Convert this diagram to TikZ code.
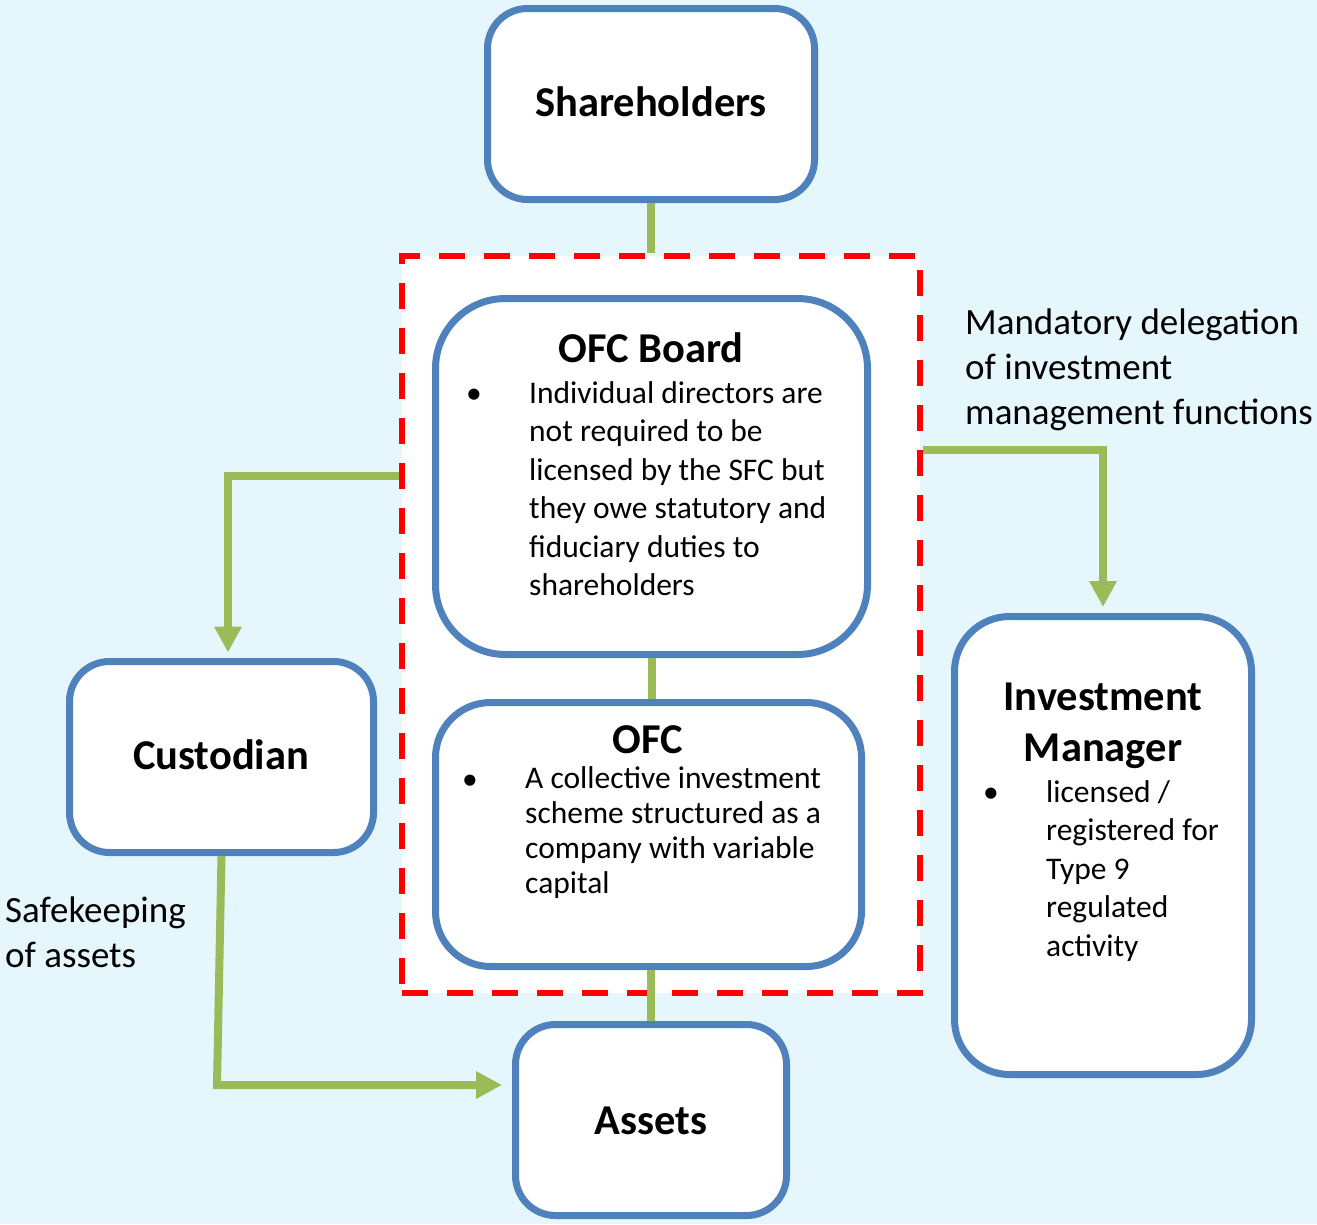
\documentclass[tikz,border=0pt]{standalone}
\usepackage{fontspec}
\setmainfont{Carlito}
\usetikzlibrary{arrows.meta}
\definecolor{bgblue}{RGB}{229,246,253}
\definecolor{boxblue}{RGB}{79,129,189}
\definecolor{linkgreen}{RGB}{155,187,89}
\definecolor{zonered}{RGB}{255,0,0}
\begin{document}
\begin{tikzpicture}[x=1pt,y=-1pt,
  box/.style={draw=boxblue, line width=7pt, fill=white, rounded corners=#1, inner sep=0pt},
  box/.default=40pt,
  zone/.style={draw=zonered, line width=6pt, dash pattern=on 26pt off 19pt, fill=white, inner sep=0pt},
  link/.style={draw=linkgreen, line width=8pt},
  arrowlink/.style={link, -{Triangle[length=26pt,width=26pt]}},
  head/.style={font=\fontsize{42.5}{51}\selectfont\bfseries, inner sep=0pt, anchor=base},
  body/.style={font=\fontsize{31.5}{38.5}\selectfont, inner sep=0pt, anchor=base west, align=left},
  tightbody/.style={font=\fontsize{31.5}{34.7}\selectfont, inner sep=0pt, anchor=base west, align=left},
  bullet/.style={font=\fontsize{31.5}{38.5}\selectfont, inner sep=0pt, anchor=base},
  note/.style={font=\fontsize{37}{45}\selectfont, inner sep=0pt, anchor=base west, align=left},
]
% canvas
\fill[bgblue] (0,0) rectangle (1317,1224);
\useasboundingbox (0,0) rectangle (1317,1224);

% dashed OFC zone
\node[zone, minimum width=518pt, minimum height=737pt] (core) at (661,624.5) {};

% boxes
\node[box, minimum width=327pt, minimum height=191pt] (sh) at (651,104) {};
\node[box=70pt, minimum width=432pt, minimum height=356pt] (board) at (651.5,476.5) {};
\node[box=55pt, minimum width=426pt, minimum height=264pt] (ofc) at (648.5,834.5) {};
\node[box, minimum width=304pt, minimum height=191pt] (cust) at (221.5,757) {};
\node[box=55pt, minimum width=297pt, minimum height=458pt] (im) at (1103,845.5) {};
\node[box, minimum width=271pt, minimum height=191pt] (assets) at (651,1120) {};

% box titles
\node[head] (shT) at (651,116) {Shareholders};
\node[head] (boardT) at (651,362) {OFC Board};
\node[head] (ofcT) at (648,753) {OFC};
\node[head] (custT) at (221,769) {Custodian};
\node[head] (assetsT) at (651,1134) {Assets};
\node[head] (imT1) at (1103,710) {Investment};
\node[head] (imT2) at (1103,761) {Manager};

% bullet texts (multi-line nodes sit on the baseline of their last line)
\node[bullet] (boardB) at (474,403) {•};
\node[body] (boardX) at (529,595.5) {Individual directors are\\not required to be\\licensed by the SFC but\\they owe statutory and\\fiduciary duties to\\shareholders};
\node[bullet] (ofcB) at (470,789) {•};
\node[tightbody] (ofcX) at (525,893) {A collective investment\\scheme structured as a\\company with variable\\capital};
\node[bullet] (imB) at (991,802) {•};
\node[body] (imX) at (1046,956) {licensed /\\registered for\\Type 9\\regulated\\activity};

% free notes
\node[note] (mand) at (965,424) {Mandatory delegation\\of investment\\management functions};
\node[note] (safe) at (5,967) {Safekeeping\\of assets};

% connectors
\coordinate (lj) at (228,476);
\coordinate (rj) at (1103,450);
\coordinate (cb) at (217,1085);
\draw[link] (sh.south) -- (sh.south |- core.north);
\draw[link] (board.south) -- (board.south |- ofc.north);
\draw[link] (assets.north |- ofc.south) -- (assets.north);
\draw[arrowlink, shorten >=5.5pt] (core.west |- lj) -| (cust.north -| lj);
\draw[arrowlink, shorten >=6pt] (core.east |- rj) -| (im.north);
\draw[arrowlink, shorten >=10pt] (cust.south) -- (cb) -- (assets.west |- cb);
\end{tikzpicture}
\end{document}
